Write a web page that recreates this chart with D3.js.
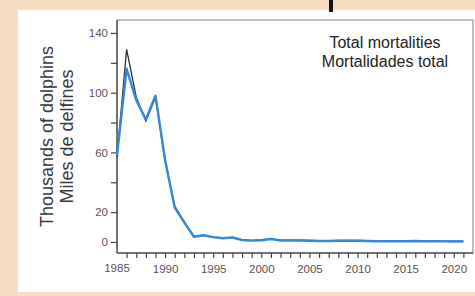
<!DOCTYPE html>
<html>
<head>
<meta charset="utf-8">
<script src="https://cdn.jsdelivr.net/npm/d3@7"></script>
<style>
  html, body { margin: 0; padding: 0; background: #f8ddc2; }
  svg { display: block; font-family: "Liberation Sans", Arial, sans-serif; }
</style>
</head>
<body>
<div id="chart"></div>
<script>
// data (thousands of dolphins)
const years = d3.range(1985, 2022);
const mortBlue = [58, 116, 95, 82, 98, 55, 23, 13, 3.5, 4.5, 3.2, 2.5, 3, 1.2, 0.9,
  1.1, 2, 1, 1, 1, 0.8, 0.6, 0.6, 0.8, 0.8, 0.8, 0.6, 0.5, 0.5, 0.5, 0.5, 0.6, 0.4,
  0.5, 0.4, 0.3, 0.3];
const mortDark = [57, 129, 97, 81, 97, 54, 24, 13.5, 3.6, 4.3, 3.3, 2.5, 3, 1.5, 1.1,
  1.3, 2.1, 1.2, 1.2, 1.2, 1, 0.8, 0.7, 1, 1, 1, 0.8, 0.7, 0.7, 0.7, 0.7, 0.8, 0.6,
  0.7, 0.6, 0.5, 0.5];
const yTicks = [0, 20, 40, 60, 80, 100, 120, 140];
const yLabels = [0, 20, 60, 100, 140];
const xLabels = [1985, 1990, 1995, 2000, 2005, 2010, 2015, 2020];
const titleLines = ['Thousands of dolphins', 'Miles de delfines'];
const legendLines = ['Total mortalities', 'Mortalidades total'];

const width = 475, height = 296;
const margin = { left: 117, right: 2, top: 20, bottom: 43 };

const svg = d3.select('#chart').append('svg')
  .attr('width', width)
  .attr('height', height);

// white panel on the peach page
svg.append('rect')
  .attr('x', 18).attr('y', 10)
  .attr('width', width - 18).attr('height', 282)
  .attr('fill', '#ffffff');

// small black mark at the top edge
svg.append('rect')
  .attr('x', 329).attr('y', 0)
  .attr('width', 4).attr('height', 12)
  .attr('fill', '#111');

const x = d3.scaleLinear()
  .domain([1985, 2022])
  .range([margin.left, width - margin.right]);
const y = d3.scaleLinear()
  .domain([-7.4, 148.7])
  .range([height - margin.bottom, margin.top]);

// frame: light top/right
svg.append('path')
  .attr('d', `M${x(1985)},${y(148.7)}H${x(2022)}V${y(-7.4)}`)
  .attr('fill', 'none')
  .attr('stroke', '#aaa')
  .attr('stroke-width', 1.5);

const yAxis = svg.append('g')
  .attr('transform', `translate(${x(1985)},0)`)
  .call(d3.axisLeft(y).tickValues(yTicks).tickSize(6).tickPadding(3)
    .tickFormat(d => yLabels.includes(d) ? d : ''));

const xAxis = svg.append('g')
  .attr('transform', `translate(0,${y(-7.4)})`)
  .call(d3.axisBottom(x).tickValues(years.slice(1)).tickSize(5).tickPadding(7)
    .tickFormat(d => xLabels.includes(d) ? d : ''));
// 1985 label sits at the corner
xAxis.append('text')
  .attr('x', x(1985)).attr('y', 19)
  .attr('text-anchor', 'middle')
  .attr('fill', '#555')
  .attr('font-size', 11.5)
  .text('1985');

[xAxis, yAxis].forEach(g => {
  g.select('.domain').attr('stroke', '#444').attr('stroke-width', 1.5);
  g.selectAll('.tick line').attr('stroke', '#444').attr('stroke-width', 1.2);
  g.selectAll('.tick text').attr('fill', '#555').attr('font-size', 11.5);
});
yAxis.select('.domain').attr('d', `M0,${y(148.7)}V${y(-7.4)}`);
xAxis.select('.domain').attr('d', `M${x(1985)},0H${x(2022)}`);

const line = d3.line()
  .x((d, i) => x(years[i]))
  .y(d => y(d));

svg.append('path')
  .datum(mortDark)
  .attr('d', line)
  .attr('fill', 'none')
  .attr('stroke', '#26313d')
  .attr('stroke-width', 1.3);

svg.append('path')
  .datum(mortBlue)
  .attr('d', line)
  .attr('fill', 'none')
  .attr('stroke', '#3589da')
  .attr('stroke-width', 2.4)
  .attr('stroke-linejoin', 'round');

// y title, two lines
const cy = (y(148.7) + y(-7.4)) / 2;
svg.selectAll('.ytitle')
  .data(titleLines)
  .join('text')
  .attr('class', 'ytitle')
  .attr('transform', (d, i) => `translate(${53 + i * 20},${cy}) rotate(-90)`)
  .attr('text-anchor', 'middle')
  .attr('font-size', 18)
  .attr('fill', '#3a3a3a')
  .text(d => d);

// legend text
svg.selectAll('.legend')
  .data(legendLines)
  .join('text')
  .attr('class', 'legend')
  .attr('x', 385)
  .attr('y', (d, i) => 48 + i * 19)
  .attr('text-anchor', 'middle')
  .attr('font-size', 16)
  .attr('fill', '#222')
  .text(d => d);
</script>
</body>
</html>
